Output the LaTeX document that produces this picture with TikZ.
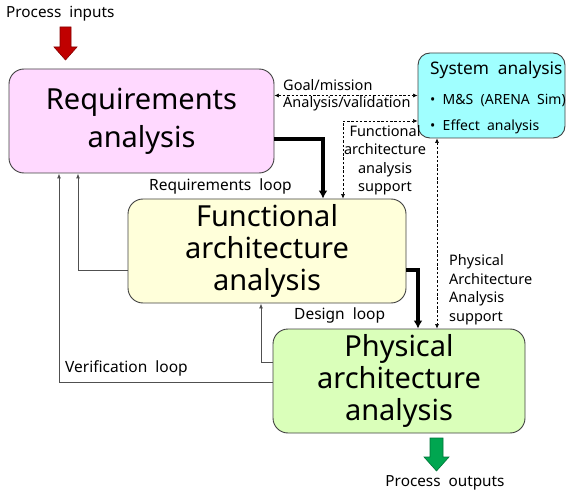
\documentclass[tikz,border=0pt]{standalone}
\usepackage{fontspec}
\setmainfont{Noto Sans}[WordSpace=2]
\usetikzlibrary{arrows.meta,calc}
\definecolor{reqfill}{RGB}{255,217,255}
\definecolor{funcfill}{RGB}{255,255,218}
\definecolor{physfill}{RGB}{218,255,186}
\definecolor{sysfill}{RGB}{160,255,255}
\definecolor{boxline}{RGB}{64,64,64}
\definecolor{loopline}{RGB}{80,80,80}
\definecolor{inred}{RGB}{192,0,0}
\definecolor{outgreen}{RGB}{0,166,80}
\begin{document}
\begin{tikzpicture}[x=1pt,y=-1pt,
  stagebox/.style={draw=boxline,line width=0.9pt,rounded corners=15pt,inner sep=0pt,align=center},
  sysbox/.style={draw=boxline,line width=0.9pt,rounded corners=12pt,inner sep=0pt,fill=sysfill},
  bigtext/.style={font=\fontsize{29}{32}\selectfont},
  lbl/.style={font=\fontsize{14.5}{18.5}\selectfont,inner sep=0pt},
  looplbl/.style={font=\fontsize{15.5}{18.5}\selectfont,inner sep=0pt,anchor=west},
  loop/.style={draw=loopline,line width=0.9pt,-{Latex[length=5pt,width=4pt]}},
  mainflow/.style={draw=black,line width=3.2pt,-{Latex[length=8pt,width=9pt]}},
  support/.style={draw=black,line width=0.6pt,dash pattern=on 2.5pt off 1.8pt,{Latex[length=4.5pt,width=4pt]}-{Latex[length=4.5pt,width=4pt]}},
  blockin/.style={fill=inred,draw=inred!70!black,line width=0.6pt},
  blockout/.style={fill=outgreen,draw=outgreen!70!black,line width=0.6pt}]
\useasboundingbox (0,0) rectangle (568,492);

% stages of the process
\node[stagebox,fill=reqfill,minimum width=265pt,minimum height=104pt,
      font=\fontsize{29}{38}\selectfont] (req) at (141.5,121) {Requirements\\analysis\hspace*{0pt}};
\node[stagebox,fill=funcfill,minimum width=278pt,minimum height=104pt,bigtext]
      (func) at (267,251) {Functional\\architecture\\analysis};
\node[stagebox,fill=physfill,minimum width=252pt,minimum height=104pt,bigtext]
      (phys) at (399,381) {Physical\\architecture\\analysis};
\node[sysbox,minimum width=147pt,minimum height=85pt] (sys) at (491.5,95.5) {};
\node[lbl,font=\fontsize{17.3}{20}\selectfont,anchor=west] (systitle) at (430,70) {System analysis};
\node[lbl,font=\fontsize{14}{18}\selectfont,anchor=west] (sysms) at (430,100) {• M\&S (ARENA Sim)};
\node[lbl,font=\fontsize{14}{18}\selectfont,anchor=west] (syseff) at (430,127) {• Effect analysis};

% process inputs and outputs
\draw[blockin] (60,27) -- (71,27) -- (71,47) -- (77,47) -- (65.5,60) -- (54,47) -- (60,47) -- cycle;
\draw[blockout] (430,438) -- (443,438) -- (443,457) -- (449,457) -- (436.5,471) -- (424,457) -- (430,457) -- cycle;
\node[lbl,font=\fontsize{15.3}{18}\selectfont,anchor=west] (pin) at (6,14) {Process inputs};
\node[lbl,font=\fontsize{15.3}{18}\selectfont] (pout) at (445,483) {Process outputs};

% main flow between stages
\draw[mainflow] ([yshift=-18pt]req.east) -| ([xshift=56pt]func.north);
\draw[mainflow] ([yshift=-19pt]func.east) -| ([xshift=19pt]phys.north);

% feedback loops
\draw[loop] ([yshift=-19pt]func.west) -| ([xshift=-63.5pt]req.south);
\draw[loop] ([yshift=-1pt]phys.west) -| ([xshift=-82.5pt]req.south);
\draw[loop] ([yshift=19pt]phys.west) -| ([xshift=-6pt]func.south);

% system analysis support
\draw[support] (req.east |- sys.west) -- (sys.west);
\draw[support] ([xshift=76pt]func.north) |- ([yshift=-25.5pt]sys.west);
\draw[support] ([xshift=-54.5pt]sys.south) -- ([xshift=-54.5pt]sys.south |- phys.north);

% labels
\node[looplbl] (lreq) at (149,186) {Requirements loop};
\node[lbl,anchor=west] (lgoal) at (283,85) {Goal/mission};
\node[lbl,anchor=west] (lval) at (283,103.5) {Analysis/validation};
\node[lbl,align=center] (lfas) at (385,160) {Functional\\architecture\\analysis\\support};
\node[lbl,align=left,anchor=west] (lpas) at (449,289.5) {Physical\\Architecture\\Analysis\\support};
\node[looplbl] (ldes) at (294,315) {Design loop};
\node[looplbl] (lver) at (65,368) {Verification loop};
\end{tikzpicture}
\end{document}
